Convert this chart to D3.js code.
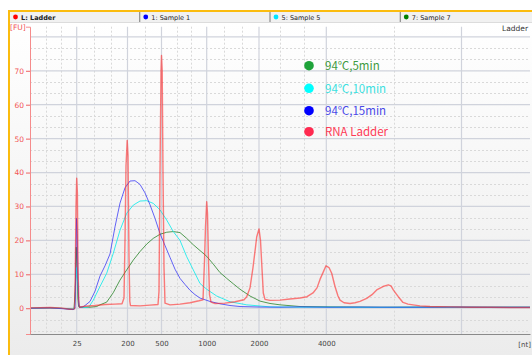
<!DOCTYPE html>
<html>
<head>
<meta charset="utf-8">
<script src="https://cdn.jsdelivr.net/npm/d3@7"></script>
<style>
  html, body { margin: 0; padding: 0; background: #fff; }
  svg { display: block; font-family: "DejaVu Sans", sans-serif; }
</style>
</head>
<body>
<script>
// migration time (s) of each ladder peak, and its size label
const ladderTimes = [24.67, 29.75, 33.15, 37.67, 42.9, 49.63];
const ladderLabels = ["25", "200", "500", "1000", "2000", "4000"];
const extraMajorTimes = [63.15];
const minorTimes = [21.55, 23.1, 26.35, 28.05, 31.45, 34.65, 36.15, 39.35, 41.15, 45.0, 47.35, 56.35];
const yLabels = [0, 10, 20, 30, 40, 50, 60, 70];

const tabNames = ["L: Ladder", "1: Sample 1", "5: Sample 5", "7: Sample 7"];
const tabColors = ["#ff0000", "#0000ff", "#00e5ff", "#008000"];

const legendLabels = ["94℃,5min", "94℃,10min", "94℃,15min", "RNA Ladder"];
const legendDots = ["#1fa33a", "#00ffff", "#0000ff", "#ff2a50"];
const legendText = ["#3f9a3f", "#3ce0e0", "#4a4ae8", "#ff3a55"];

// [time, FU]
const ladderTrace = [[20, 0.1], [22, 0.2], [23, 0.1], [24, -0.3], [24.45, -0.2], [24.52, 8], [24.6, 30], [24.67, 38.3], [24.74, 34], [24.8, 12], [24.88, 2], [24.95, 0.3], [25.5, 0.6], [26.5, 0.8], [27.5, 1.1], [28.5, 1.2], [29.2, 1.3], [29.4, 3], [29.5, 20], [29.6, 42], [29.72, 49.5], [29.8, 45], [29.9, 15], [29.98, 2], [30.05, 0.8], [31, 0.7], [32, 0.9], [32.8, 1.1], [32.9, 5], [33.0, 40], [33.1, 70], [33.15, 74.5], [33.22, 70], [33.3, 40], [33.4, 12], [33.5, 1.5], [34, 1], [35, 1.2], [36, 1.6], [36.9, 2.2], [37.3, 2.5], [37.45, 14], [37.55, 24], [37.67, 31.4], [37.75, 28], [37.85, 14], [37.95, 4], [38.1, 1.8], [38.5, 1.4], [39.5, 1.5], [40.5, 1.9], [41.4, 2.5], [41.67, 3.4], [42, 6], [42.3, 12], [42.55, 18], [42.67, 21], [42.9, 23.4], [43.05, 20], [43.17, 13.3], [43.33, 4.5], [43.5, 2.6], [44, 2.3], [45, 2.4], [46, 2.7], [47, 3], [47.7, 3.4], [48.3, 4.5], [48.7, 6], [49, 8.5], [49.3, 10.5], [49.6, 12.5], [49.9, 12], [50.17, 10.3], [50.5, 6.4], [50.8, 3.6], [51, 2.4], [51.4, 1.6], [52, 1.4], [52.5, 1.6], [53, 2], [53.67, 2.9], [54.2, 4], [54.67, 5.4], [55.3, 6.4], [55.83, 6.9], [56.1, 6.6], [56.33, 5.4], [56.6, 4.3], [56.83, 3.4], [57.3, 1.7], [57.8, 1.2], [58.3, 1], [59, 0.7], [60, 0.5], [62, 0.4], [64, 0.3], [66, 0.3], [68, 0.2], [70, 0.2]];

const sample1Trace = [[20, 0], [22, 0.1], [23.5, -0.2], [24.3, -0.4], [24.5, 0], [24.58, 12], [24.65, 26.5], [24.72, 22], [24.8, 8], [24.88, 1], [24.95, 0.3], [25.3, 0.4], [25.5, 0.8], [26, 2], [26.5, 5], [27, 9.5], [27.5, 12.5], [28, 16], [28.5, 24], [29, 31], [29.5, 35.5], [30, 37.5], [30.5, 37.6], [31, 36.5], [31.5, 34], [32, 30.5], [32.5, 26.5], [33, 22], [33.5, 18.5], [34, 15], [34.5, 11.5], [35, 8.8], [35.5, 7], [36, 5.3], [36.5, 4], [37, 3], [38, 2], [39, 1.3], [40, 0.8], [41, 0.5], [43, 0.35], [45, 0.3], [47, 0.4], [50, 0.3], [53, 0.35], [56, 0.3], [60, 0.3], [63, 0.35], [66, 0.3], [70, 0.3]];

const sample5Trace = [[20, 0], [22, 0.1], [23.5, -0.1], [24.4, -0.3], [24.52, 2], [24.62, 12], [24.7, 9], [24.78, 7.5], [24.86, 2], [24.95, 0.3], [25.5, 0.2], [25.9, 0.4], [26.33, 2.4], [27, 6.4], [27.67, 10.3], [28.33, 16.2], [29, 23], [29.67, 28], [30.33, 30.4], [31, 31.6], [31.67, 31.7], [32.33, 30.9], [33, 29], [33.67, 26], [34.33, 22.6], [35, 20], [35.67, 15.2], [36.33, 11.3], [37, 7.3], [37.67, 5.6], [38.67, 3.6], [40, 1.9], [41.67, 1], [44, 0.4], [47, 0.3], [50, 0.3], [55, 0.25], [60, 0.3], [65, 0.3], [70, 0.3]];

const sample7Trace = [[20, 0], [22, 0.1], [23.5, -0.1], [24.4, -0.3], [24.52, 5], [24.62, 18], [24.7, 12], [24.78, 3], [24.86, 0.5], [25, 0.3], [26, 0.3], [26.67, 0.5], [27, 1], [27.67, 1.8], [28.33, 4.6], [29, 8.3], [29.67, 11.3], [30.33, 14.2], [31, 16.7], [31.67, 18.9], [32.33, 20.6], [33, 21.8], [33.67, 22.4], [34.33, 22.6], [35, 22.3], [35.67, 20.6], [36.33, 18.7], [37, 17], [37.67, 15.3], [38.33, 13], [39, 10.5], [39.67, 8.8], [40.33, 7.2], [41, 5.6], [42, 3.6], [43, 2.1], [44, 1.4], [45, 1], [47, 0.5], [50, 0.4], [55, 0.3], [60, 0.35], [65, 0.3], [70, 0.3]];

const width = 532;
const height = 355;

const svg = d3.select("body").append("svg")
  .attr("width", width)
  .attr("height", height);

const defs = svg.append("defs");
const grad = defs.append("linearGradient")
  .attr("id", "bg").attr("x1", 0).attr("y1", 0).attr("x2", 0).attr("y2", 1);
grad.append("stop").attr("offset", "0%").attr("stop-color", "#ffffff");
grad.append("stop").attr("offset", "100%").attr("stop-color", "#ececec");

// panel background + orange frame
svg.append("rect").attr("x", 10).attr("y", 22).attr("width", width - 10).attr("height", height - 22)
  .attr("fill", "url(#bg)");
svg.append("rect").attr("x", 10).attr("y", 12).attr("width", width - 10).attr("height", 10)
  .attr("fill", "#f1f1f1");
svg.append("line").attr("x1", 10).attr("x2", width).attr("y1", 22.5).attr("y2", 22.5)
  .attr("stroke", "#dcdcdc");
svg.append("rect").attr("x", 8).attr("y", 10).attr("width", width - 8).attr("height", 2).attr("fill", "#fbbc0f");
svg.append("rect").attr("x", 8).attr("y", 10).attr("width", 2).attr("height", height - 10).attr("fill", "#fbbc0f");

// tabs
const tabX = d3.scaleLinear().domain([0, 4]).range([10, 531]);
const tabs = svg.append("g").selectAll("g").data(tabNames).enter().append("g")
  .attr("transform", (d, i) => `translate(${tabX(i)},0)`);
tabs.filter((d, i) => i > 0).append("line")
  .attr("x1", -0.5).attr("x2", -0.5).attr("y1", 12).attr("y2", 22)
  .attr("stroke", "#777");
tabs.append("circle").attr("cx", 5.5).attr("cy", 17).attr("r", 2.4)
  .attr("fill", (d, i) => tabColors[i]);
tabs.append("text").attr("x", 11).attr("y", 19.5)
  .attr("font-size", 6.5).attr("fill", "#222")
  .attr("font-weight", (d, i) => i === 0 ? "bold" : "normal")
  .text(d => d);

// plot
const x = d3.scaleLinear().domain([20, 70]).range([30, 530]);
const y = d3.scaleLinear().domain([-7.6, 83]).range([334, 26.7]);

const grid = svg.append("g");
const majorY = d3.range(0, 81, 10);
const minorY = d3.range(-20 / 3, 83, 10 / 3).filter(v => Math.abs(v / 10 - Math.round(v / 10)) > 0.01);

grid.selectAll(".my").data(minorY).enter().append("line")
  .attr("x1", 30).attr("x2", 530).attr("y1", d => Math.round(y(d)) + 0.5).attr("y2", d => Math.round(y(d)) + 0.5)
  .attr("stroke", "#d9d9d9").attr("stroke-dasharray", "2,2");
grid.selectAll(".mx").data(minorTimes).enter().append("line")
  .attr("y1", y.range()[1]).attr("y2", 334).attr("x1", d => Math.round(x(d)) + 0.5).attr("x2", d => Math.round(x(d)) + 0.5)
  .attr("stroke", "#d9d9d9").attr("stroke-dasharray", "2,2");
grid.selectAll(".Y").data(majorY).enter().append("line")
  .attr("x1", 30).attr("x2", 530).attr("y1", d => y(d)).attr("y2", d => y(d))
  .attr("stroke", "#d0d3dc").attr("stroke-width", 1.2);
grid.selectAll(".X").data(ladderTimes.concat(extraMajorTimes)).enter().append("line")
  .attr("y1", y.range()[1]).attr("y2", 334).attr("x1", d => x(d)).attr("x2", d => x(d))
  .attr("stroke", "#d0d3dc").attr("stroke-width", 1.2);

// traces
const line = d3.line().x(d => x(d[0])).y(d => y(d[1]));
const traces = [
  { data: sample7Trace, color: "rgba(30,125,30,0.75)", w: 1 },
  { data: sample5Trace, color: "rgba(20,235,235,0.85)", w: 1 },
  { data: sample1Trace, color: "rgba(50,50,245,0.75)", w: 1 },
  { data: ladderTrace, color: "rgba(255,40,40,0.6)", w: 1.4 }
];
svg.append("g").selectAll("path").data(traces).enter().append("path")
  .attr("d", d => line(d.data))
  .attr("fill", "none")
  .attr("stroke", d => d.color)
  .attr("stroke-width", d => d.w)
  .attr("stroke-linejoin", "round");

// y axis
const yAxis = svg.append("g").attr("transform", "translate(30,0)")
  .call(d3.axisLeft(y).tickValues(yLabels).tickSize(4).tickPadding(2));
yAxis.select(".domain").attr("stroke", "#f58b8b");
yAxis.selectAll(".tick line").attr("stroke", "#f06060");
yAxis.selectAll(".tick text").attr("fill", "#f25555").attr("font-size", 7.5).attr("font-family", "DejaVu Sans");
svg.append("text").attr("x", 10).attr("y", 30).attr("font-size", 7.5).attr("fill", "#f25555").text("[FU]");

// x axis
const xAxis = svg.append("g").attr("transform", "translate(0,334)")
  .call(d3.axisBottom(x).tickValues(ladderTimes).tickFormat((d, i) => ladderLabels[i]).tickSize(0).tickPadding(7));
xAxis.select(".domain").attr("stroke", "#8a8a8a");
xAxis.selectAll(".tick text").attr("fill", "#444").attr("font-size", 7).attr("font-family", "DejaVu Sans");
svg.append("text").attr("x", 531).attr("y", 347).attr("text-anchor", "end")
  .attr("font-size", 7).attr("fill", "#444").text("[nt]");

svg.append("text").attr("x", 528).attr("y", 31).attr("text-anchor", "end")
  .attr("font-size", 7.5).attr("fill", "#333").text("Ladder");

// legend
const legend = svg.append("g").selectAll("g").data(legendLabels).enter().append("g")
  .attr("transform", (d, i) => `translate(309,${[65.7, 88.3, 110.7, 131.7][i]})`);
legend.append("circle").attr("r", 4.8).attr("fill", (d, i) => legendDots[i]);
legend.append("text").attr("x", 16).attr("y", 4.2)
  .attr("font-size", 11.5).attr("font-family", "'Noto Sans CJK SC', 'Noto Sans', sans-serif")
  .attr("fill", (d, i) => legendText[i]).text(d => d);
</script>
</body>
</html>
